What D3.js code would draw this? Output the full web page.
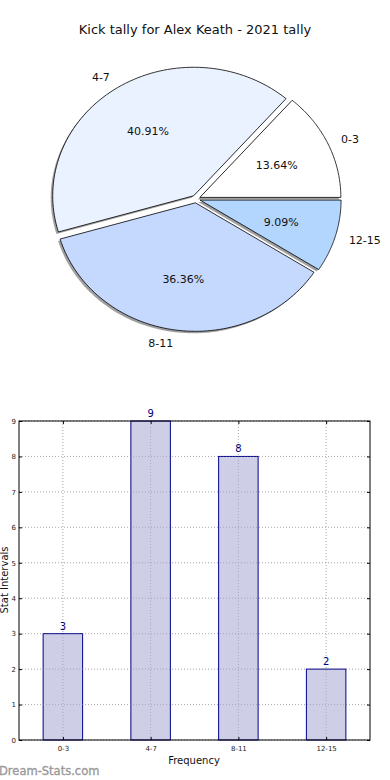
<!DOCTYPE html>
<html><head><meta charset="utf-8">
<script src="https://cdn.jsdelivr.net/npm/d3@7/dist/d3.min.js"></script>
<style>body{margin:0;background:#fff}svg{display:block;font-family:"DejaVu Sans",sans-serif}</style>
</head><body><div id="c"></div>
<script>
const categories = ["0-3", "4-7", "8-11", "12-15"];
const values = [3, 9, 8, 2];
const sliceColors = ["#ffffff", "#ebf2ff", "#c5d9ff", "#b3d6ff"];
const yTicks = [0, 1, 2, 3, 4, 5, 6, 7, 8, 9];
const title = "Kick tally for Alex Keath - 2021 tally";

const W = 390, H = 780;
const svg = d3.select("#c").append("svg").attr("width", W).attr("height", H);

svg.append("text").attr("x", 195).attr("y", 34).attr("text-anchor", "middle")
  .attr("font-size", 13).attr("fill", "#111").text(title);

// ---- Pie ----
const cx = 196, cy = 199, rx = 141, ry = 128.5, explode = 0.03;
const total = d3.sum(values);
const angScale = d3.scaleLinear().domain([0, total]).range([0, 2 * Math.PI]);
let acc = 0;
const slices = values.map((v, i) => {
  const a0 = angScale(acc); acc += v; const a1 = angScale(acc);
  return {i, v, a0, a1, mid: (a0 + a1) / 2};
});
function slicePath(s, ox, oy) {
  const p = d3.path();
  const n = 80;
  p.moveTo(ox, oy);
  for (let k = 0; k <= n; k++) {
    const a = s.a0 + (s.a1 - s.a0) * k / n;
    p.lineTo(ox + rx * Math.cos(a), oy - ry * Math.sin(a));
  }
  p.closePath();
  return p.toString();
}
slices.forEach(s => {
  s.ox = cx + explode * rx * Math.cos(s.mid);
  s.oy = cy - explode * ry * Math.sin(s.mid);
});
const gp = svg.append("g");
gp.selectAll("path.sh").data(slices).join("path").attr("class", "sh")
  .attr("d", s => slicePath(s, s.ox - 2, s.oy + 2))
  .attr("fill", "#808080").attr("fill-opacity", 0.75).attr("stroke", "none");
gp.selectAll("path.sl").data(slices).join("path").attr("class", "sl")
  .attr("d", s => slicePath(s, s.ox, s.oy))
  .attr("fill", s => sliceColors[s.i]).attr("stroke", "#000").attr("stroke-width", 0.8)
  .attr("stroke-linejoin", "round");
gp.selectAll("text.lb").data(slices).join("text").attr("class", "lb")
  .attr("x", s => s.ox + 1.1 * rx * Math.cos(s.mid))
  .attr("y", s => s.oy - 1.1 * ry * Math.sin(s.mid))
  .attr("dy", "0.35em")
  .attr("text-anchor", s => Math.cos(s.mid) < 0 ? "end" : "start")
  .attr("font-size", 11).attr("fill", "#111").text(s => categories[s.i]);
gp.selectAll("text.pc").data(slices).join("text").attr("class", "pc")
  .attr("x", s => s.ox + 0.6 * rx * Math.cos(s.mid))
  .attr("y", s => s.oy - 0.6 * ry * Math.sin(s.mid))
  .attr("dy", "0.35em").attr("text-anchor", "middle")
  .attr("font-size", 11).attr("fill", "#111")
  .text(s => (s.v / total * 100).toFixed(2) + "%");

// ---- Bar chart ----
const L = 19, R = 370, T = 421, B = 740;
const x = d3.scaleLinear().domain([-0.5, categories.length - 0.5]).range([L, R]);
const y = d3.scaleLinear().domain([0, 9]).range([B, T]);
const bw = 0.45;
const gb = svg.append("g");
gb.selectAll("line.gy").data(yTicks).join("line").attr("class", "gy")
  .attr("x1", L).attr("x2", R).attr("y1", d => y(d)).attr("y2", d => y(d))
  .attr("stroke", "#bbb").attr("stroke-width", 1).attr("stroke-dasharray", "1,2");
gb.selectAll("line.gx").data(categories).join("line").attr("class", "gx")
  .attr("x1", (d, i) => x(i)).attr("x2", (d, i) => x(i)).attr("y1", T).attr("y2", B)
  .attr("stroke", "#bbb").attr("stroke-width", 1).attr("stroke-dasharray", "1,2");
gb.selectAll("rect.bar").data(values).join("rect").attr("class", "bar")
  .attr("x", (d, i) => x(i - bw / 2)).attr("width", (d, i) => x(i + bw / 2) - x(i - bw / 2))
  .attr("y", d => y(d)).attr("height", d => B - y(d))
  .attr("fill", "#b3b3d9").attr("fill-opacity", 0.65).attr("stroke", "#00008b").attr("stroke-width", 1);
gb.selectAll("line.gy2").data(yTicks).join("line").attr("class", "gy2")
  .attr("x1", L).attr("x2", R).attr("y1", d => y(d)).attr("y2", d => y(d))
  .attr("stroke", "#999").attr("stroke-opacity", 0.35).attr("stroke-width", 1).attr("stroke-dasharray", "1,2");
gb.selectAll("line.gx2").data(categories).join("line").attr("class", "gx2")
  .attr("x1", (d, i) => x(i)).attr("x2", (d, i) => x(i)).attr("y1", T).attr("y2", B)
  .attr("stroke", "#999").attr("stroke-opacity", 0.35).attr("stroke-width", 1).attr("stroke-dasharray", "1,2");
gb.selectAll("text.v").data(values).join("text").attr("class", "v")
  .attr("x", (d, i) => x(i)).attr("y", d => y(d) - 4)
  .attr("text-anchor", "middle").attr("font-size", 10).attr("fill", "#000080").text(d => d);
gb.append("rect").attr("x", L).attr("y", T).attr("width", R - L).attr("height", B - T)
  .attr("fill", "none").attr("stroke", "#000").attr("stroke-width", 1);
const yAxis = d3.axisLeft(y).tickValues(yTicks).tickSize(-3).tickPadding(3);
const ya = gb.append("g").attr("transform", `translate(${L},0)`).call(yAxis);
ya.select(".domain").remove();
ya.selectAll("text").attr("font-size", 7).attr("fill", "#222").attr("font-family", "DejaVu Sans");
const yAxisR = d3.axisRight(y).tickValues(yTicks).tickSize(-3).tickFormat("");
const yr = gb.append("g").attr("transform", `translate(${R},0)`).call(yAxisR);
yr.select(".domain").remove();
const xAxis = d3.axisBottom(x).tickValues(d3.range(categories.length)).tickFormat(i => categories[i]).tickSize(-3).tickPadding(6);
const xa = gb.append("g").attr("transform", `translate(0,${B})`).call(xAxis);
xa.select(".domain").remove();
xa.selectAll("text").attr("font-size", 7).attr("fill", "#222").attr("font-family", "DejaVu Sans");
const xAxisT = d3.axisTop(x).tickValues(d3.range(categories.length)).tickSize(-3).tickFormat("");
const xt = gb.append("g").attr("transform", `translate(0,${T})`).call(xAxisT);
xt.select(".domain").remove();
gb.selectAll(".tick line").attr("stroke", "#000");

svg.append("text").attr("x", 194).attr("y", 764).attr("text-anchor", "middle")
  .attr("font-size", 10).attr("fill", "#111").text("Frequency");
svg.append("text").attr("transform", "translate(8,580) rotate(-90)").attr("text-anchor", "middle")
  .attr("font-size", 10).attr("fill", "#111").text("Stat Intervals");
svg.append("text").attr("x", -1).attr("y", 775).attr("font-size", 11.5)
  .attr("fill", "#9a9a9a").attr("stroke", "#9a9a9a").attr("stroke-width", 0.35)
  .text("Dream-Stats.com");
</script></body></html>
